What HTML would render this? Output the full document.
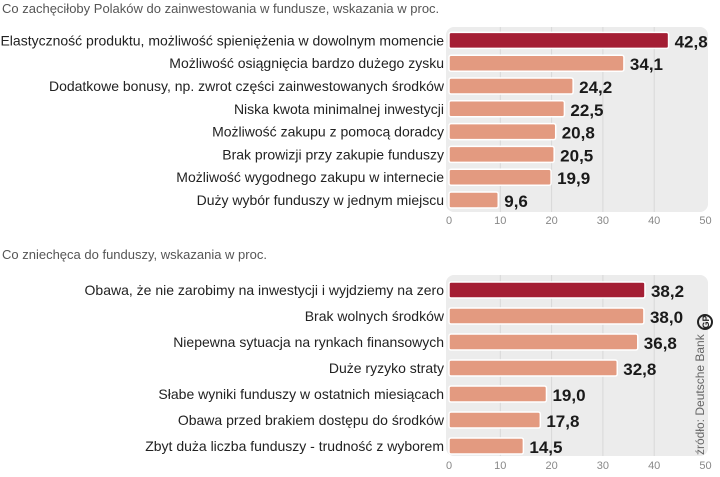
<!DOCTYPE html>
<html><head><meta charset="utf-8"><style>
body{margin:0;background:#fff;width:720px;height:472px;overflow:hidden;font-family:"Liberation Sans",sans-serif}
svg text{font-family:"Liberation Sans",sans-serif}
</style></head><body>
<svg width="720" height="472" xmlns="http://www.w3.org/2000/svg" id="chart">
<text x="2" y="13" font-size="13" fill="#555">Co zachęciłoby Polaków do zainwestowania w fundusze, wskazania w proc.</text>
<text x="2" y="259" font-size="13" fill="#555">Co zniechęca do funduszy, wskazania w proc.</text>
<g id="g1"></g><g id="g2"></g>
<text transform="translate(704,455) rotate(-90)" font-size="12" fill="#666">źródło: Deutsche Bank</text>
<circle cx="705" cy="322" r="7" fill="none" stroke="#222" stroke-width="2"/>
<text x="705" y="326" font-size="9" font-weight="bold" text-anchor="middle" fill="#222" transform="rotate(-90 705 322)">GP</text>
</svg>
<script>
const cats1=["Elastyczność produktu, możliwość spieniężenia w dowolnym momencie","Możliwość osiągnięcia bardzo dużego zysku","Dodatkowe bonusy, np. zwrot części zainwestowanych środków","Niska kwota minimalnej inwestycji","Możliwość zakupu z pomocą doradcy","Brak prowizji przy zakupie funduszy","Możliwość wygodnego zakupu w internecie","Duży wybór funduszy w jednym miejscu"];
const vals1=[42.8,34.1,24.2,22.5,20.8,20.5,19.9,9.6];
const cats2=["Obawa, że nie zarobimy na inwestycji i wyjdziemy na zero","Brak wolnych środków","Niepewna sytuacja na rynkach finansowych","Duże ryzyko straty","Słabe wyniki funduszy w ostatnich miesiącach","Obawa przed brakiem dostępu do środków","Zbyt duża liczba funduszy - trudność z wyborem"];
const vals2=[38.2,38.0,36.8,32.8,19.0,17.8,14.5];
const ticks=[0,10,20,30,40,50];
const NS="http://www.w3.org/2000/svg";
const x=v=>449+v*5.13;
function mk(p,t,a){const e=document.createElementNS(NS,t);for(const k in a)e.setAttribute(k,a[k]);p.appendChild(e);return e;}
function draw(gid,cats,vals,top,step,bot,axisY,pre){
 const g=document.getElementById(gid);
 const bg=mk(g,'rect',{x:446,y:top,width:262,height:bot-top,rx:8,fill:'#ececec'});
 
 ticks.forEach(t=>{
  if(t>0&&t<50){const l=mk(g,'line',{x1:x(t),x2:x(t),y1:top,y2:bot,stroke:'#d8d8d8','stroke-width':1});
  }
  const tl=mk(g,'text',{x:x(t),y:axisY,'font-size':11,fill:'#888','text-anchor':'middle'});tl.textContent=t;
  
 });
 cats.forEach((c,i)=>{
  const cy=top+step/2+2+i*step;
  const b=mk(g,'rect',{x:x(0),y:cy-8,width:x(vals[i])-x(0),height:16,rx:2,fill:i==0?'#a41e34':'#e39a80',stroke:'#fff','stroke-width':1.5});
  
  const lt=mk(g,'text',{x:444,y:cy+5,'font-size':14,fill:'#222','text-anchor':'end'});lt.textContent=c;
  
  const vt=mk(g,'text',{x:x(vals[i])+6,y:cy+7,'font-size':17,'font-weight':'bold',fill:'#1a1a1a'});vt.textContent=vals[i].toFixed(1).replace('.',',');
  
 });
}
draw('g1',cats1,vals1,27,22.8,212,224,'top');
draw('g2',cats2,vals2,275,26,456,469,'bottom');
</script>
</body></html>
